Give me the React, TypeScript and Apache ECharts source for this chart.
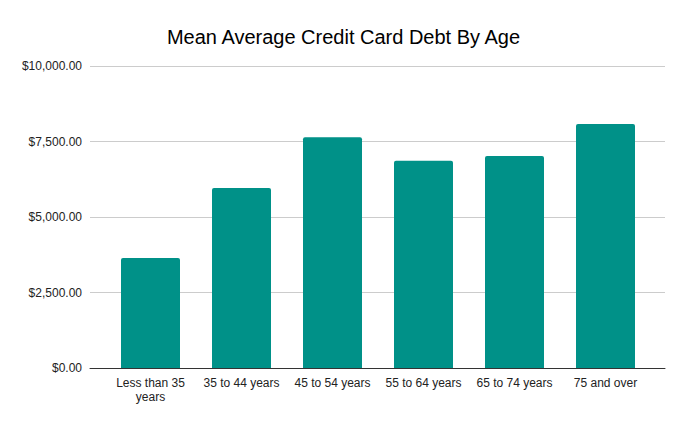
import React, { useEffect, useRef } from 'react'
import * as echarts from 'echarts'

// 年龄段
const categories: string[] = [
    'Less than 35\nyears',
    '35 to 44 years',
    '45 to 54 years',
    '55 to 64 years',
    '65 to 74 years',
    '75 and over',
]
// 平均信用卡债务
const debtValues: number[] = [3640, 5960, 7640, 6860, 7020, 8080]
const yTicks: number[] = [0, 2500, 5000, 7500, 10000]

const fmt = (v: number) =>
    '$' + v.toLocaleString('en-US', { minimumFractionDigits: 2, maximumFractionDigits: 2 })

const FONT = '"Liberation Sans", Arial, sans-serif'

const App: React.FC = () => {
    const chartRef = useRef<HTMLDivElement | null>(null)

    useEffect(() => {
        if (!chartRef.current) return
        const chart = echarts.init(chartRef.current, undefined, { renderer: 'svg' })
        const yMax = yTicks[yTicks.length - 1]
        const yStep = yTicks[1] - yTicks[0]

        chart.setOption({
            animation: false,
            backgroundColor: '#ffffff',
            title: {
                text: 'Mean Average Credit Card Debt By Age',
                left: 'center',
                top: 14,
                textStyle: {
                    fontFamily: FONT,
                    fontSize: 20,
                    fontWeight: 'normal',
                    color: '#000',
                },
            },
            grid: [
                // 网格线和y轴
                { left: 82, right: 14, top: 58, bottom: 48 },
                // 柱子
                { left: 97, right: 28, top: 58, bottom: 48 },
            ],
            xAxis: [
                {
                    gridIndex: 0,
                    type: 'category',
                    data: categories,
                    axisLine: { lineStyle: { color: '#333', width: 1 } },
                    axisTick: { show: false },
                    axisLabel: { show: false },
                },
                {
                    gridIndex: 1,
                    type: 'category',
                    data: categories,
                    axisLine: { show: false },
                    axisTick: { show: false },
                    axisLabel: {
                        margin: 8,
                        color: '#222',
                        fontSize: 12,
                        lineHeight: 14,
                        fontFamily: FONT,
                        interval: 0,
                    },
                },
            ],
            yAxis: [
                {
                    gridIndex: 0,
                    type: 'value',
                    min: 0,
                    max: yMax,
                    interval: yStep,
                    axisLine: { show: false },
                    axisTick: { show: false },
                    splitLine: { lineStyle: { color: '#cccccc', width: 1 } },
                    axisLabel: {
                        margin: 8,
                        color: '#222',
                        fontSize: 12,
                        fontFamily: FONT,
                        formatter: (v: number) => fmt(v),
                    },
                },
                {
                    gridIndex: 1,
                    type: 'value',
                    min: 0,
                    max: yMax,
                    interval: yStep,
                    show: false,
                    splitLine: { show: false },
                },
            ],
            series: [
                {
                    type: 'bar',
                    xAxisIndex: 1,
                    yAxisIndex: 1,
                    data: debtValues,
                    barWidth: 59,
                    itemStyle: { color: '#009188', borderRadius: [2, 2, 0, 0] },
                },
            ],
        })

        return () => {
            chart.dispose()
        }
    }, [])

    return <div ref={chartRef} style={{ width: 671, height: 408 }} />
}

export default App
